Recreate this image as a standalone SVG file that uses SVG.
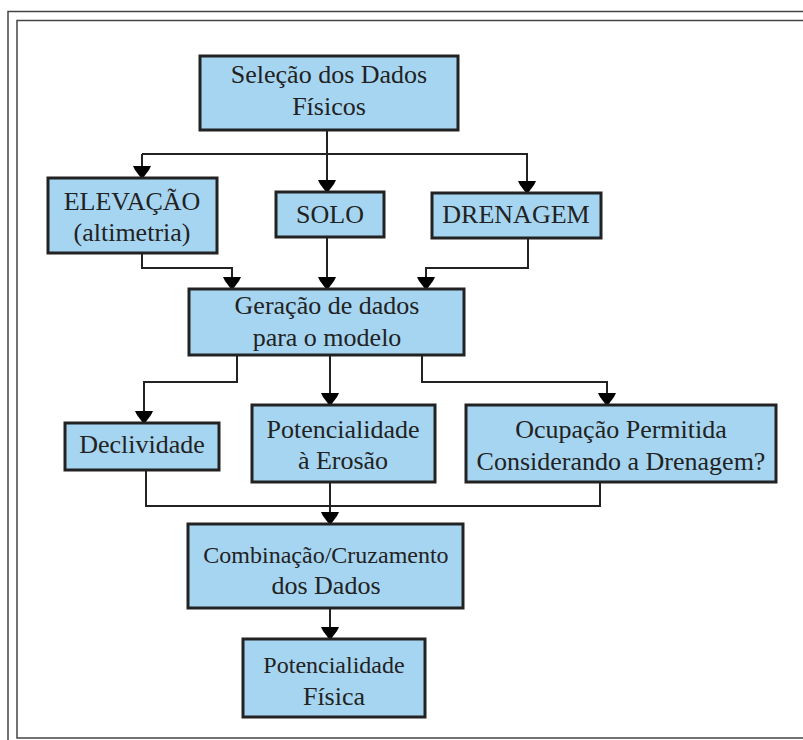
<svg xmlns="http://www.w3.org/2000/svg" width="803" height="740" viewBox="0 0 803 740">
<style>
.box{fill:#a6d5f1;stroke:#222;stroke-width:3}
.t{font-family:"Liberation Serif","Times New Roman",serif;font-size:26px;fill:#222;text-anchor:middle}
.s{font-size:24px}
.c{fill:none;stroke:#222;stroke-width:2}
.pg{fill:none;stroke:#444;stroke-width:1.5}
</style>
<defs>
<polygon id="ah" points="-9,-12 9,-12 7,-8 1,0 -1,0 -7,-8" fill="#000"/>
</defs>
<rect width="803" height="740" fill="#fff"/>
<g id="page">
<polyline class="pg" points="8,742 8,11.5 810,11.5"/>
<polyline class="pg" points="810,20.5 17,20.5 17,738 810,738"/>
</g>
<g id="connectors">
<path class="c" d="M327,130 V180 M142,154 H527 V182 M142,154 V166"/>
<path class="c" d="M142,253 V268 H232 V278 M327,237 V278 M528,238 V268 H426 V278"/>
<path class="c" d="M237,355 V382 H144 V412 M330,355 V394 M422,355 V382 H607 V394"/>
<path class="c" d="M146,470 V506 H600 V482 M330,482 V513"/>
<path class="c" d="M330,608 V628"/>
<use href="#ah" x="142" y="178"/>
<use href="#ah" x="327" y="192"/>
<use href="#ah" x="527" y="193"/>
<use href="#ah" x="232" y="289"/>
<use href="#ah" x="327" y="289"/>
<use href="#ah" x="426" y="289"/>
<use href="#ah" x="144" y="423"/>
<use href="#ah" x="330" y="405"/>
<use href="#ah" x="607" y="405"/>
<use href="#ah" x="330" y="524"/>
<use href="#ah" x="330" y="639"/>
</g>
<g id="selecao">
<rect class="box" x="200" y="56" width="258" height="74"/>
<text class="t" x="329" y="83">Seleção dos Dados</text>
<text class="t" x="329" y="115">Físicos</text>
</g>
<g id="elevacao">
<rect class="box" x="48" y="178" width="169" height="75"/>
<text class="t" x="132" y="210">ELEVAÇÃO</text>
<text class="t" x="132" y="241">(altimetria)</text>
</g>
<g id="solo">
<rect class="box" x="276" y="192" width="108" height="45"/>
<text class="t" x="330" y="223">SOLO</text>
</g>
<g id="drenagem">
<rect class="box" x="432" y="193" width="169" height="45"/>
<text class="t" x="516" y="223">DRENAGEM</text>
</g>
<g id="geracao">
<rect class="box" x="189" y="289" width="275" height="66"/>
<text class="t" x="327" y="314">Geração de dados</text>
<text class="t" x="327" y="346">para o modelo</text>
</g>
<g id="declividade">
<rect class="box" x="65" y="423" width="154" height="47"/>
<text class="t" x="142" y="453">Declividade</text>
</g>
<g id="erosao">
<rect class="box" x="252" y="405" width="183" height="77"/>
<text class="t" x="343" y="438">Potencialidade</text>
<text class="t" x="343" y="469">à Erosão</text>
</g>
<g id="ocupacao">
<rect class="box" x="466" y="405" width="310" height="77"/>
<text class="t" x="621" y="438">Ocupação Permitida</text>
<text class="t" x="621" y="470">Considerando a Drenagem?</text>
</g>
<g id="combinacao">
<rect class="box" x="188" y="524" width="275" height="84"/>
<text class="t s" x="326" y="563">Combinação/Cruzamento</text>
<text class="t" x="326" y="594">dos Dados</text>
</g>
<g id="fisica">
<rect class="box" x="243" y="639" width="182" height="78"/>
<text class="t s" x="334" y="673">Potencialidade</text>
<text class="t" x="334" y="705">Física</text>
</g>
</svg>
